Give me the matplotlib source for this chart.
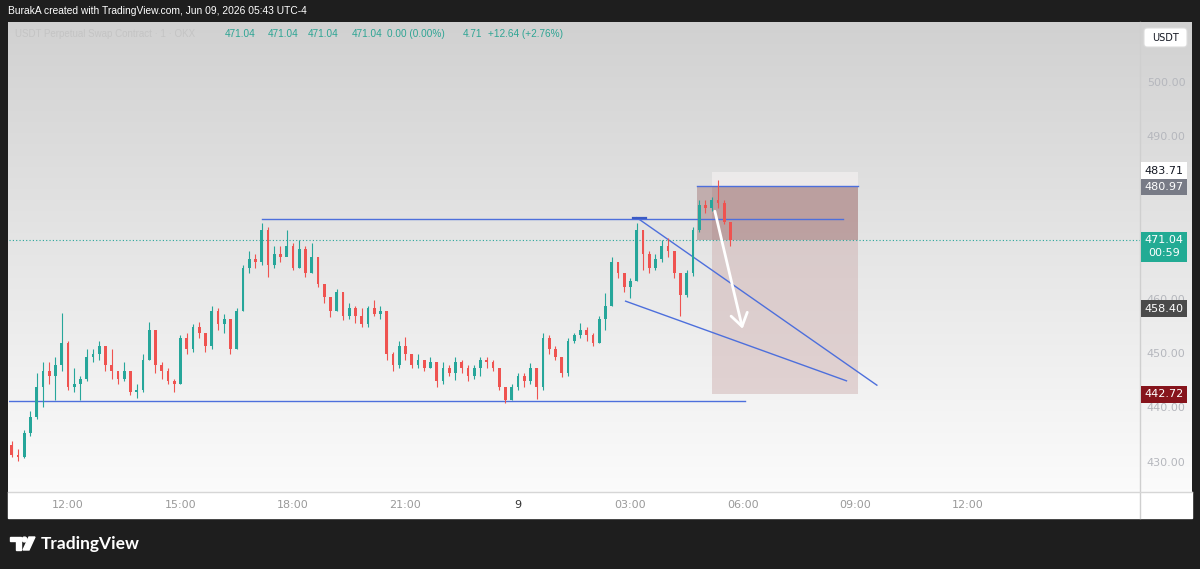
import numpy as np
import matplotlib.pyplot as plt
from matplotlib.patches import Rectangle, FancyBboxPatch, Polygon, Circle

# 10-minute candles from 10:30 (Jun 8) to 05:40 (Jun 9); x = hours since 00:00 Jun 8
start_hour = 10.5
step_hour = 1 / 6
first_open = 433.3
closes = [
    431.5, 431.0, 435.5, 438.5, 444.0, 447.0, 446.0, 448.0, 452.0, 444.0,
    444.5, 445.5, 449.5, 450.0, 451.5, 448.0, 447.0, 445.5, 447.0, 443.0,
    443.5, 449.0, 454.5, 448.0, 447.0, 445.0, 444.5, 453.0, 451.0, 455.0,
    454.0, 451.5, 458.0, 455.5, 456.5, 451.0, 458.0, 466.0, 467.5, 467.0,
    473.0, 466.5, 468.5, 468.0, 470.0, 466.0, 469.5, 465.0, 468.0, 463.0,
    460.5, 458.0, 461.5, 457.0, 458.5, 457.0, 455.5, 458.5, 457.5, 458.0,
    450.0, 448.0, 451.5, 450.0, 448.0, 449.0, 447.5, 448.5, 445.0, 447.5,
    446.5, 448.5, 447.5, 446.0, 447.5, 449.0, 448.5, 447.5, 444.0, 441.5,
    444.0, 446.0, 445.0, 447.5, 444.0, 453.0, 451.0, 449.5, 446.5, 452.5,
    453.5, 454.5, 453.5, 452.0, 456.5, 459.0, 467.0, 465.0, 462.5, 463.5,
    473.0, 468.5, 466.0, 467.5, 470.0, 469.0, 465.0, 461.0, 465.0, 473.0,
    477.5, 477.0, 478.5, 478.0, 474.5, 471.04,
]
highs = [
    434.0, 432.5, 436.0, 439.5, 446.5, 448.5, 448.5, 449.5, 457.6, 452.5,
    447.5, 446.0, 451.0, 451.0, 452.5, 451.5, 451.0, 446.5, 448.5, 447.0,
    444.5, 450.0, 456.0, 454.5, 448.5, 447.5, 445.5, 453.5, 454.0, 455.5,
    456.0, 454.0, 459.0, 458.5, 457.5, 456.5, 458.5, 466.5, 469.0, 468.5,
    474.2, 473.5, 470.0, 470.0, 473.0, 470.5, 471.0, 470.0, 470.5, 468.0,
    463.0, 460.5, 462.0, 461.5, 459.5, 459.0, 458.5, 459.0, 460.0, 459.0,
    458.0, 450.5, 452.5, 453.2, 450.0, 450.0, 449.0, 449.5, 448.5, 448.5,
    448.0, 449.5, 449.0, 448.0, 448.0, 449.5, 449.5, 449.0, 447.5, 444.0,
    444.5, 446.5, 446.5, 448.4, 447.5, 454.0, 453.5, 451.5, 449.5, 453.0,
    454.0, 455.7, 455.0, 454.0, 457.0, 461.3, 468.0, 467.0, 465.0, 464.0,
    474.2, 473.0, 469.0, 468.5, 471.0, 471.5, 469.0, 465.0, 465.5, 473.5,
    478.5, 478.5, 479.0, 482.1, 478.5, 474.5,
]
lows = [
    431.0, 430.3, 430.8, 435.0, 438.0, 440.3, 444.5, 441.6, 447.0, 443.5,
    443.0, 441.6, 445.0, 448.5, 449.0, 447.0, 445.5, 444.5, 445.0, 442.5,
    442.0, 443.0, 449.0, 446.5, 445.5, 444.5, 443.0, 444.5, 450.0, 450.5,
    453.0, 450.5, 451.0, 454.5, 454.0, 450.0, 451.0, 458.0, 465.0, 466.0,
    466.5, 464.2, 466.0, 467.0, 468.5, 465.5, 466.0, 464.3, 465.0, 462.5,
    459.5, 456.9, 458.0, 456.3, 456.5, 455.7, 455.1, 455.0, 457.0, 456.5,
    449.0, 447.0, 447.5, 449.0, 447.5, 447.5, 447.0, 447.5, 444.0, 444.5,
    446.0, 445.3, 446.5, 445.0, 445.5, 446.0, 447.5, 447.0, 443.5, 441.0,
    441.5, 443.5, 444.0, 444.5, 441.8, 443.5, 450.0, 449.0, 445.8, 446.0,
    452.0, 453.0, 452.5, 451.5, 452.0, 454.5, 459.0, 464.0, 461.5, 460.4,
    463.5, 465.5, 465.0, 465.5, 467.0, 468.0, 464.0, 457.0, 460.5, 464.5,
    472.5, 476.0, 476.5, 477.0, 474.0, 470.0,
]

# drawings on the chart (hours, price)
support_level = 441.4
support_span = (10.43, 30.05)
resistance_level = 475.0
resistance_span = (17.17, 32.67)
wedge_upper = [(27.17, 475.2), (33.57, 444.3)]
wedge_lower = [(26.87, 459.8), (32.76, 445.1)]
arrow_from = (29.25, 476.4)
arrow_to = (29.99, 454.7)
position_span = (29.17, 33.07)
pnl_start = 28.77
stop_price = 483.71
entry_price = 480.97
target_price = 442.72
last_price = 471.04
countdown = "00:59"
marker_price = 458.40

# 480.00 and 470.00 sit fully under the price labels
price_ticks = [500, 490, 460, 450, 440, 430]
time_ticks = [12, 15, 18, 21, 24, 27, 30, 33, 36]
time_labels = ["12:00", "15:00", "18:00", "21:00", "9", "03:00", "06:00", "09:00", "12:00"]

header = "BurakA created with TradingView.com, Jun 09, 2026 05:43 UTC-4"
legend_parts = [
    (225, "471.04"), (268, "471.04"), (308, "471.04"), (352, "471.04"),
    (387, "0.00 (0.00%)"), (463, "4.71"), (488, "+12.64 (+2.76%)"),
]

UP = "#26a69a"
DOWN = "#ef5350"
BLUE = "#4d6fdc"
DARK = "#1e1e1e"

W, H = 1200, 569
fig = plt.figure(figsize=(12, 5.69), dpi=100)
fig.patch.set_facecolor(DARK)

# pixel-space overlay for the frame
bg = fig.add_axes([0, 0, 1, 1])
bg.set_xlim(0, W)
bg.set_ylim(H, 0)
bg.axis("off")
grad = np.linspace(0, 1, 256).reshape(-1, 1)
top_c = np.array([0.82, 0.82, 0.82])
bot_c = np.array([0.985, 0.985, 0.985])
img = top_c + (bot_c - top_c) * grad[..., None]
img = np.repeat(img, 2, axis=1)
bg.imshow(img, extent=(8, 1192, 492, 22), aspect="auto", zorder=0)
bg.add_patch(Rectangle((8, 492), 1184, 26, color="white", zorder=0))
bg.plot([1140, 1140], [22, 518], color="#cfcfcf", lw=1, zorder=1)
bg.plot([8, 1192], [492, 492], color="#d6d6d6", lw=1, zorder=1)

bg.text(8, 11, header, color="white", fontsize=7.4, family="Liberation Sans",
        va="center", ha="left")
bg.text(15, 34, "USDT Perpetual Swap Contract · 1 · OKX", color="#c4c4c4",
        fontsize=7, family="Liberation Sans", va="center", ha="left")
for px, s in legend_parts:
    bg.text(px, 34, s, color="#2ea594", fontsize=7.2, family="Liberation Sans",
            va="center", ha="left")

bg.add_patch(FancyBboxPatch((1144, 28), 43, 19, boxstyle="round,pad=0,rounding_size=3",
                            fc="white", ec="#dddddd", lw=0.8, zorder=3))
bg.text(1165.5, 37.5, "USDT", fontsize=7, color="#131722", ha="center", va="center", zorder=4)

# TradingView logo
bg.add_patch(Polygon([(10, 537), (21, 537), (21, 550), (16, 550), (16, 541), (10, 541)],
                     closed=True, color="white"))
bg.add_patch(Circle((24.5, 539.5), 2.4, color="white"))
bg.add_patch(Polygon([(29, 537), (35, 537), (29, 550), (23, 550)], closed=True, color="white"))
bg.text(41, 544, "TradingView", color="white", fontsize=12.5, family="Lato",
        fontweight="bold", va="center", ha="left")

# main price chart
bottom = (H - 492) / H
height = (492 - 22) / H
ax = fig.add_axes([9 / W, bottom, (1140 - 9) / W, height])
ax.set_facecolor("none")
ax.set_xlim(10.427, 40.587)
ax.set_ylim(424.59, 511.31)
for s in ax.spines.values():
    s.set_visible(False)
ax.set_yticks([])
ax.set_xticks(time_ticks)
ax.set_xticklabels(time_labels)
ax.tick_params(axis="x", length=0, pad=6, labelsize=8, labelcolor="#9a9a9a")
ax.get_xticklabels()[4].set_color("#333333")

t = start_hour + step_hour * np.arange(len(closes))
c = np.array(closes)
o = np.concatenate([[first_open], c[:-1]])
hi = np.array(highs)
lo = np.array(lows)
col = np.where(c >= o, UP, DOWN)
ax.vlines(t, lo, hi, colors=col, lw=0.8, zorder=3)
body = np.where(np.abs(c - o) < 0.15, 0.15, c - o)
ax.bar(t, body, bottom=o, width=step_hour * 0.42, color=col, lw=0, zorder=3)

# position tool
x0, x1 = position_span
ax.add_patch(Rectangle((x0, entry_price), x1 - x0, stop_price - entry_price,
                       fc="#f2efef", alpha=0.75, lw=0, zorder=1))
ax.add_patch(Rectangle((x0, target_price), x1 - x0, entry_price - target_price,
                       fc="#c9a6a6", alpha=0.42, lw=0, zorder=1))
ax.add_patch(Rectangle((pnl_start, last_price), x1 - pnl_start, entry_price - last_price,
                       fc="#9c6f6f", alpha=0.45, lw=0, zorder=1))
ax.plot([pnl_start, x1], [entry_price, entry_price], color=BLUE, lw=1, zorder=2)

ax.plot(support_span, [support_level] * 2, color=BLUE, lw=1, zorder=2)
ax.plot(resistance_span, [resistance_level] * 2, color=BLUE, lw=1, zorder=2)
ax.plot(*zip(*wedge_upper), color=BLUE, lw=1, zorder=2)
ax.plot(*zip(*wedge_lower), color=BLUE, lw=1, zorder=2)
ax.plot([wedge_upper[0][0] - 0.1, wedge_upper[0][0] + 0.25], [wedge_upper[0][1]] * 2,
        color="#3b5bc4", lw=1.6, zorder=2)
ax.axhline(last_price, color=UP, lw=0.8, ls=(0, (1, 2)), zorder=2)
ax.annotate("", xy=arrow_to, xytext=arrow_from,
            arrowprops=dict(arrowstyle="->,head_length=0.9,head_width=0.6",
                            color="white", lw=2, shrinkA=0, shrinkB=0), zorder=5)

# price scale
axp = fig.add_axes([1140 / W, bottom, 52 / W, height])
axp.set_facecolor("none")
axp.set_xlim(0, 52)
axp.set_ylim(424.59, 511.31)
axp.axis("off")
for p in price_ticks:
    axp.text(26, p, f"{p:.2f}", color="#b5b7bd", fontsize=8, ha="center", va="center", zorder=1)

box_h = 3.1
def price_box(p, txt, fc, tc, y0=None, hgt=box_h):
    y0 = p - hgt / 2 if y0 is None else y0
    axp.add_patch(Rectangle((1, y0), 46, hgt, fc=fc, lw=0, zorder=3))
    axp.text(24, p, txt, color=tc, fontsize=8, ha="center", va="center", zorder=4)

price_box(stop_price + 0.2, f"{stop_price:.2f}", "white", "#131722")
price_box(entry_price - 0.1, f"{entry_price:.2f}", "#787b86", "white")
price_box(marker_price, f"{marker_price:.2f}", "#4a4a4a", "white")
price_box(target_price - 0.1, f"{target_price:.2f}", "#86141c", "white")
axp.add_patch(Rectangle((1, last_price - 4.0), 46, 5.6, fc="#22ab94", lw=0, zorder=3))
axp.text(24, last_price + 0.1, f"{last_price:.2f}", color="white", fontsize=8,
         ha="center", va="center", zorder=4)
axp.text(24, last_price - 2.4, countdown, color="white", fontsize=8,
         ha="center", va="center", zorder=4)

fig.savefig("out.png", dpi=100, facecolor=DARK)
